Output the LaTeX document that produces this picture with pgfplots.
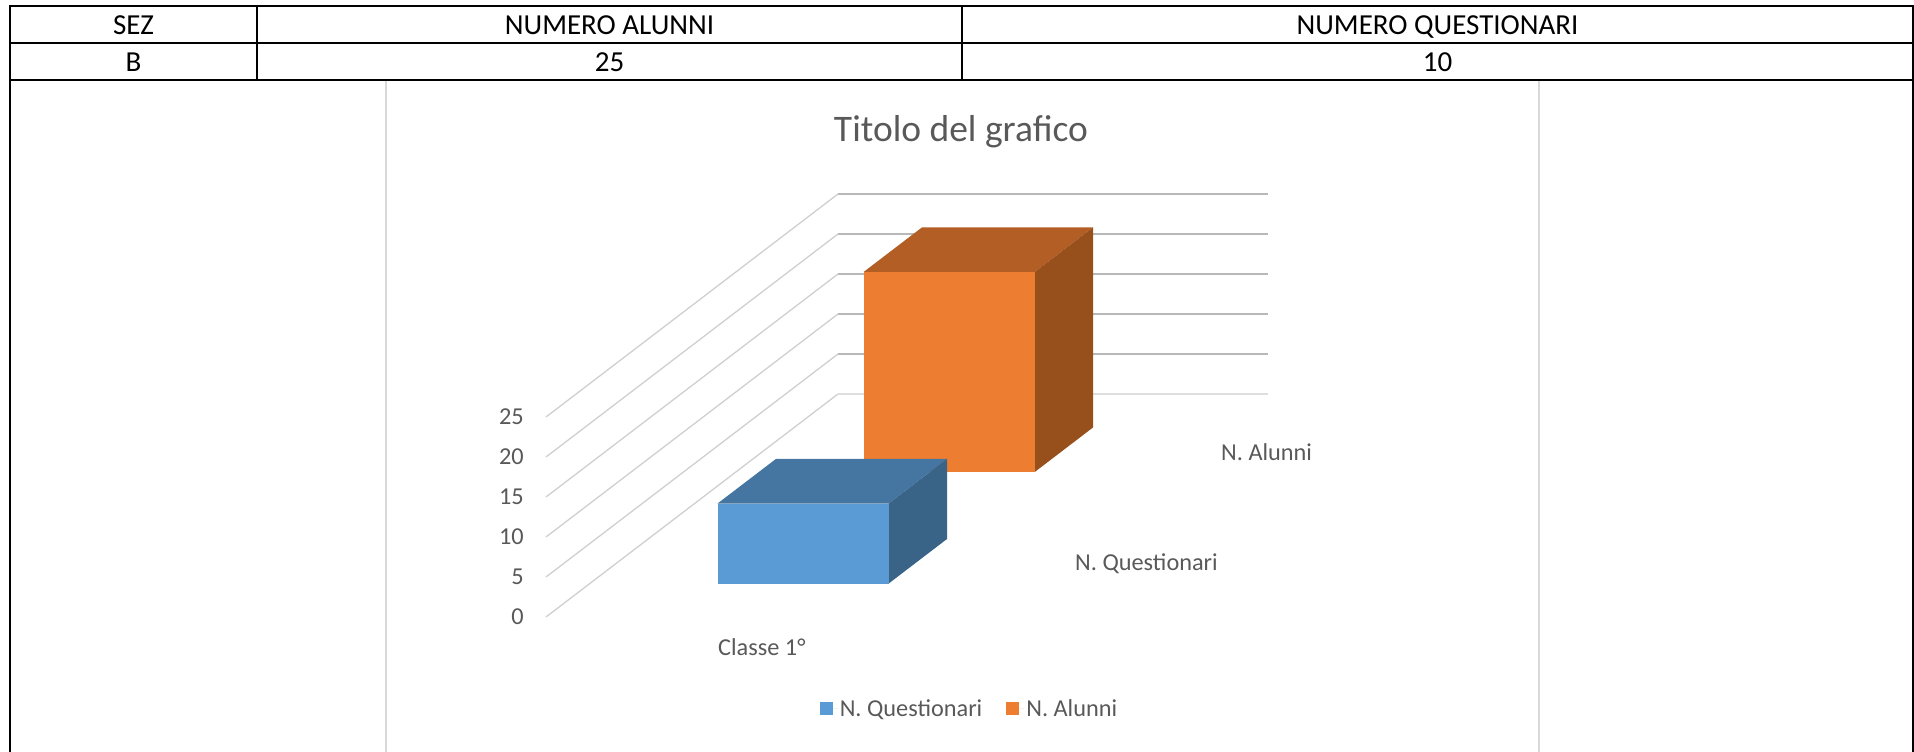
\documentclass[border=0pt]{standalone}
\usepackage{fontspec}
\setmainfont{Carlito}
\usepackage{pgfplots}
\pgfplotsset{compat=1.18}
\definecolor{txtgray}{HTML}{595959}
\definecolor{gridback}{HTML}{B8B8B8}
\definecolor{gridbase}{HTML}{DEDEDE}
\definecolor{gridside}{HTML}{CFCFCF}
\definecolor{frame}{HTML}{D9D9D9}
\definecolor{bluef}{HTML}{5B9BD5}
\definecolor{bluet}{HTML}{4575A1}
\definecolor{blues}{HTML}{396387}
\definecolor{orangef}{HTML}{ED7D31}
\definecolor{oranget}{HTML}{B25E25}
\definecolor{oranges}{HTML}{974F1C}
\begin{document}
\begin{tikzpicture}[x=1pt,y=1pt]
  \path[use as bounding box] (0,0) rectangle (1914,752);
  % chart frame
  \draw[frame,line width=1.5pt] (386,672) -- (386,0);
  \draw[frame,line width=1.5pt] (1539,672) -- (1539,0);
  % table
  \draw[black,line width=2pt] (10,0) -- (10,746.3) -- (1913,746.3) -- (1913,0);
  \draw[black,line width=2pt] (10,709.3) -- (1913,709.3);
  \draw[black,line width=2pt] (10,671.7) -- (1913,671.7);
  \draw[black,line width=2pt] (257,746.3) -- (257,671.7);
  \draw[black,line width=2pt] (962,746.3) -- (962,671.7);
  \foreach \cx/\a/\b in {133.5/SEZ/B,609.5/NUMERO ALUNNI/25,1437.5/NUMERO QUESTIONARI/10} {
    \node[anchor=base,font=\fontsize{29}{29}\selectfont,text=black] at (\cx,717.5) {\a};
    \node[anchor=base,font=\fontsize{29}{29}\selectfont,text=black] at (\cx,680) {\b};
  }
  \node[anchor=base,font=\fontsize{37.5}{37.5}\selectfont,text=txtgray] at (961,610.3) {Titolo del grafico};
  \begin{axis}[
    at={(546pt,135pt)}, anchor=origin,
    x={(430pt,0pt)}, y={(146pt,111.5pt)}, z={(0pt,8pt)},
    xmin=0, xmax=1, ymin=0, ymax=2, zmin=0, zmax=25,
    clip=false,
    axis line style={draw=none},
    major tick length=0pt,
    xtick={0.5}, xticklabels={Classe 1°},
    ytick={0.5,1.5}, yticklabels={N. Questionari,N. Alunni},
    ztick={0,5,10,15,20,25},
    /pgf/number format/assume math mode=true,
    tick label style={font=\fontsize{24.3}{24.3}\selectfont,text=txtgray,inner sep=0pt},
    xticklabel style={anchor=west,xshift=-43pt,yshift=-30pt},
    yticklabel style={anchor=west,xshift=26pt,yshift=-2pt},
    zticklabel style={anchor=east,xshift=-22pt,yshift=0pt},
    legend columns=2,
    legend image code/.code={\fill[draw=none,#1] (0pt,-6.5pt) rectangle (13pt,6.5pt); \path[draw=none] (13pt,0pt) -- (18pt,0pt);},
    legend style={draw=none,fill=none,font=\fontsize{24.3}{24.3}\selectfont,text=txtgray,
      at={(0.5865,-0.216)},anchor=center,
      /tikz/column 2/.style={column sep=22pt}},
  ]
    \addlegendimage{fill=bluef}
    \addlegendentry{N. Questionari}
    \addlegendimage{fill=orangef}
    \addlegendentry{N. Alunni}
    % side wall and back wall gridlines
    \foreach \z in {0,5,10,15,20,25} {
      \edef\temp{\noexpand\addplot3[gridside,line width=1.3pt,forget plot] coordinates {(0,0,\z) (0,2,\z)};}
      \temp
    }
    \addplot3[gridbase,line width=1.6pt,forget plot] coordinates {(0,2,0) (1,2,0)};
    \foreach \z in {5,10,15,20,25} {
      \edef\temp{\noexpand\addplot3[gridback,line width=1.6pt,forget plot] coordinates {(0,2,\z) (1,2,\z)};}
      \temp
    }
    % N. Alunni
    \addplot3[fill=oranget,draw=none,forget plot] coordinates {(0.297,1.3,25) (0.695,1.3,25) (0.695,1.7,25) (0.297,1.7,25)} -- cycle;
    \addplot3[fill=oranges,draw=none,forget plot] coordinates {(0.695,1.3,0) (0.695,1.7,0) (0.695,1.7,25) (0.695,1.3,25)} -- cycle;
    \addplot3[fill=orangef,draw=none,forget plot] coordinates {(0.297,1.3,0) (0.695,1.3,0) (0.695,1.3,25) (0.297,1.3,25)} -- cycle;
    % N. Questionari
    \addplot3[fill=bluet,draw=none,forget plot] coordinates {(0.297,0.3,10) (0.695,0.3,10) (0.695,0.7,10) (0.297,0.7,10)} -- cycle;
    \addplot3[fill=blues,draw=none,forget plot] coordinates {(0.695,0.3,0) (0.695,0.7,0) (0.695,0.7,10) (0.695,0.3,10)} -- cycle;
    \addplot3[fill=bluef,draw=none,forget plot] coordinates {(0.297,0.3,0) (0.695,0.3,0) (0.695,0.3,10) (0.297,0.3,10)} -- cycle;
  \end{axis}
\end{tikzpicture}
\end{document}
